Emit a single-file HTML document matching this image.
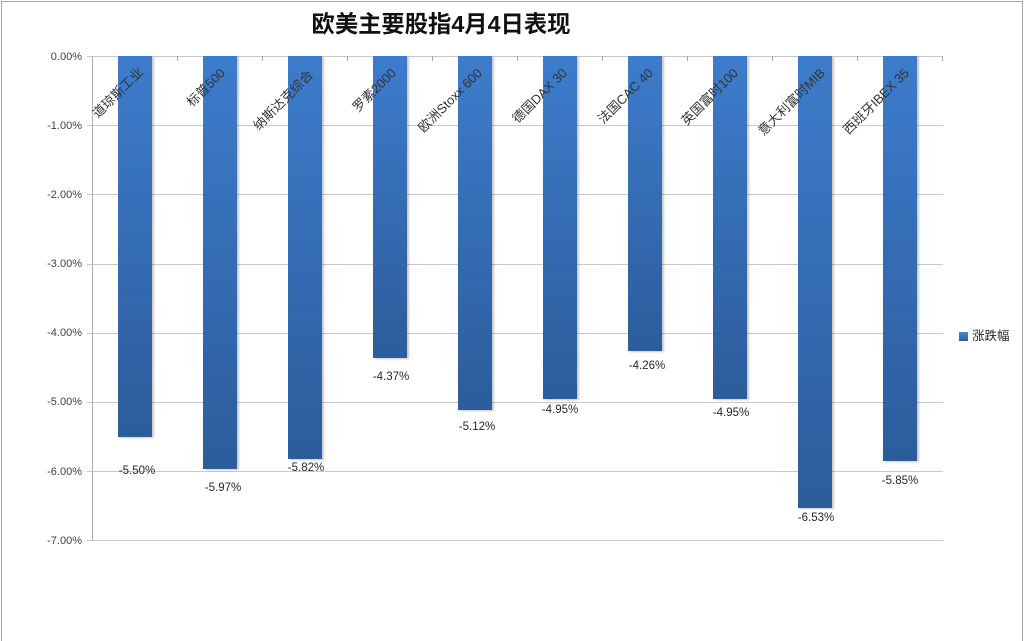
<!DOCTYPE html>
<html><head><meta charset="utf-8">
<style>
html,body{margin:0;padding:0;background:#fff;}
#c{position:relative;width:1024px;height:641px;overflow:hidden;background:#fff;font-family:"Liberation Sans","Noto Sans CJK SC",sans-serif;}
.bl{position:absolute;background:#a6a6a6;}
.grid{position:absolute;left:87px;width:856px;height:1px;background:#c9c9c9;}
.yl{position:absolute;right:942px;font-size:11px;color:#404040;transform:translateY(-50%);white-space:nowrap;}
.bar{position:absolute;width:34px;top:56px;background:linear-gradient(to bottom,#3d7ccc,#2c5c9b);box-shadow:2px 1px 2px rgba(0,0,0,0.22);}
.dl{position:absolute;font-size:11.5px;color:#262626;transform:translate(-50%,-50%);white-space:nowrap;}
.cat{position:absolute;font-size:13px;color:#333;white-space:nowrap;transform-origin:100% 50%;transform:translate(-100%,-50%) rotate(-45deg);line-height:14px;}
.tk{position:absolute;width:1px;height:5px;top:56px;background:#a6a6a6;}
</style></head><body>
<div id="c">
<div class="bl" style="left:1px;top:1px;width:1px;height:640px;"></div>
<div class="bl" style="left:1px;top:1px;width:1022px;height:1px;"></div>
<div class="bl" style="left:1022px;top:1px;width:1px;height:640px;"></div>

<div style="position:absolute;left:241px;width:400px;top:9px;text-align:center;font-size:23.3px;font-weight:bold;color:#111;line-height:30px;">欧美主要股指4月4日表现</div>

<div class="grid" style="top:56px;"></div>
<div class="grid" style="top:125px;"></div>
<div class="grid" style="top:194px;"></div>
<div class="grid" style="top:264px;"></div>
<div class="grid" style="top:333px;"></div>
<div class="grid" style="top:402px;"></div>
<div class="grid" style="top:471px;"></div>
<div class="grid" style="top:540px;"></div>
<div style="position:absolute;left:92px;top:56px;width:1px;height:485px;background:#b0b0b0;"></div>

<div class="tk" style="left:177px"></div><div class="tk" style="left:262px"></div><div class="tk" style="left:347px"></div><div class="tk" style="left:432px"></div><div class="tk" style="left:517px"></div><div class="tk" style="left:602px"></div><div class="tk" style="left:687px"></div><div class="tk" style="left:772px"></div><div class="tk" style="left:857px"></div><div class="tk" style="left:942px"></div>

<div class="yl" style="top:57px;">0.00%</div>
<div class="yl" style="top:126px;">-1.00%</div>
<div class="yl" style="top:195px;">-2.00%</div>
<div class="yl" style="top:264px;">-3.00%</div>
<div class="yl" style="top:333px;">-4.00%</div>
<div class="yl" style="top:402px;">-5.00%</div>
<div class="yl" style="top:472px;">-6.00%</div>
<div class="yl" style="top:541px;">-7.00%</div>

<div class="bar" style="left:118px;height:381px;"></div>
<div class="bar" style="left:203px;height:413px;"></div>
<div class="bar" style="left:288px;height:403px;"></div>
<div class="bar" style="left:373px;height:302px;"></div>
<div class="bar" style="left:458px;height:354px;"></div>
<div class="bar" style="left:543px;height:343px;"></div>
<div class="bar" style="left:628px;height:295px;"></div>
<div class="bar" style="left:713px;height:343px;"></div>
<div class="bar" style="left:798px;height:452px;"></div>
<div class="bar" style="left:883px;height:405px;"></div>

<div class="cat" style="left:141px;top:70px;">道琼斯工业</div>
<div class="cat" style="left:223px;top:71px;">标普500</div>
<div class="cat" style="left:311px;top:73px;">纳斯达克综合</div>
<div class="cat" style="left:394px;top:71px;">罗素2000</div>
<div class="cat" style="left:480px;top:71px;">欧洲Stoxx 600</div>
<div class="cat" style="left:565px;top:71px;">德国DAX 30</div>
<div class="cat" style="left:651px;top:71px;">法国CAC 40</div>
<div class="cat" style="left:736px;top:71px;">英国富时100</div>
<div class="cat" style="left:823px;top:71px;">意大利富时MIB</div>
<div class="cat" style="left:907px;top:71px;">西班牙IBEX 35</div>

<div class="dl" style="left:137px;top:471px;">-5.50%</div>
<div class="dl" style="left:223px;top:488px;">-5.97%</div>
<div class="dl" style="left:306px;top:468px;">-5.82%</div>
<div class="dl" style="left:391px;top:377px;">-4.37%</div>
<div class="dl" style="left:477px;top:427px;">-5.12%</div>
<div class="dl" style="left:560px;top:410px;">-4.95%</div>
<div class="dl" style="left:647px;top:366px;">-4.26%</div>
<div class="dl" style="left:731px;top:413px;">-4.95%</div>
<div class="dl" style="left:816px;top:518px;">-6.53%</div>
<div class="dl" style="left:900px;top:481px;">-5.85%</div>

<div style="position:absolute;left:959px;top:332px;width:9px;height:9px;background:linear-gradient(to bottom,#4a8ad6,#2c5c9b);"></div>
<div style="position:absolute;left:972px;top:327px;font-size:12.5px;color:#262626;line-height:18px;white-space:nowrap;">涨跌幅</div>
</div>
</body></html>
